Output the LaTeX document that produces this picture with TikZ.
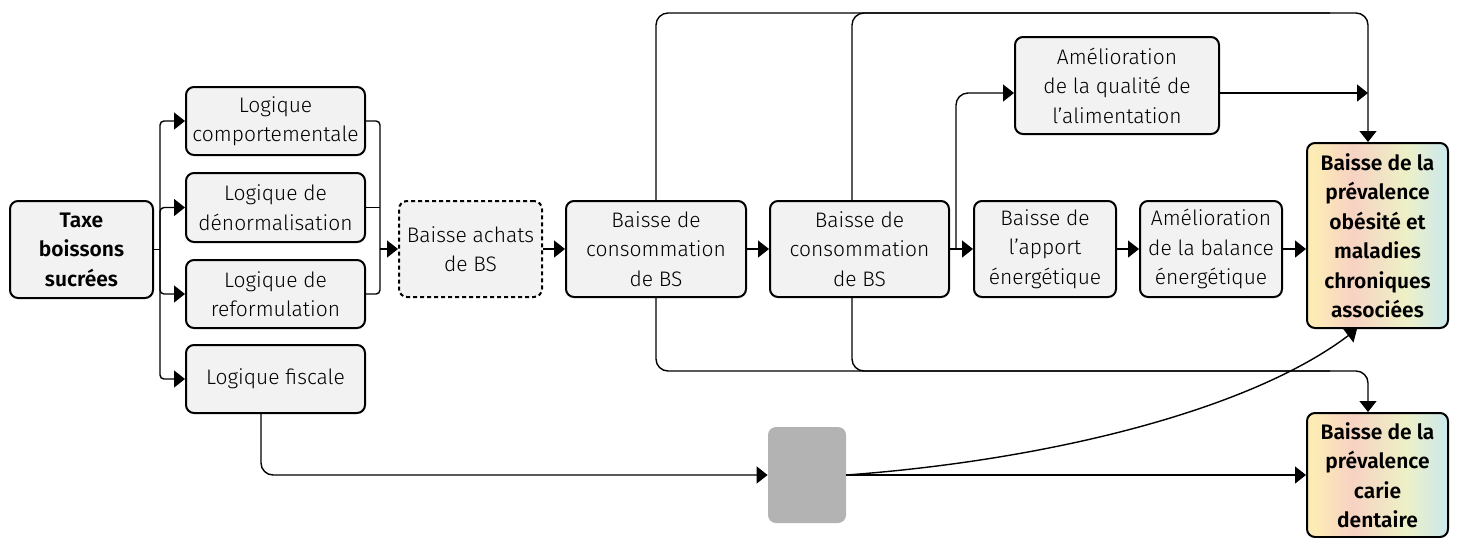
\documentclass[tikz,border=0pt]{standalone}
\usepackage{fontspec}
\setmainfont{Fira Sans}[UprightFont=* Light, BoldFont=* SemiBold]
\usetikzlibrary{arrows.meta,calc}
\definecolor{boxfill}{HTML}{F2F2F2}
\definecolor{grayfill}{HTML}{B3B3B3}
\definecolor{oca}{HTML}{FCEBB5}
\definecolor{ocb}{HTML}{F7D2C3}
\definecolor{occ}{HTML}{EDF0C6}
\definecolor{ocd}{HTML}{CBE8EE}
\pgfdeclarehorizontalshading{outcome}{100bp}{color(0bp)=(oca); color(25bp)=(oca); color(28bp)=(oca); color(41bp)=(ocb); color(60bp)=(occ); color(75bp)=(ocd); color(100bp)=(ocd)}
\newcommand\bxfont{\fontsize{10.5pt}{14.75pt}\selectfont}
\begin{document}
\begin{tikzpicture}[x=0.5pt,y=-0.5pt,
  font=\bxfont,
  sz/.style 2 args={minimum width=#1*0.5pt, minimum height=#2*0.5pt},
  box/.style={draw, line width=1pt, rounded corners=4pt, fill=boxfill, align=center, inner sep=0pt},
  boldbox/.style={box, font=\bxfont\bfseries},
  dashbox/.style={box, dash pattern=on 2pt off 1.5pt},
  outbox/.style={draw, line width=1pt, rounded corners=4pt, shading=outcome, align=center, inner sep=0pt, font=\bxfont\bfseries},
  graybox/.style={fill=grayfill, rounded corners=4pt, inner sep=0pt},
  conn/.style={line width=0.7pt},
  arr/.style={conn, -{Triangle[length=5.5pt,width=8.5pt]}}]
\useasboundingbox (0,0) rectangle (1461,537);

% nodes
\node[boldbox, sz={143}{97}] (taxe) at (81.5,249.5) {Taxe\\boissons\\sucrées};
\node[box, sz={179}{68}] (l1) at (275.5,121) {Logique\\comportementale};
\node[box, sz={179}{69}] (l2) at (275.5,207.5) {Logique de\\dénormalisation};
\node[box, sz={179}{68}] (l3) at (275.5,294) {Logique de\\reformulation};
\node[box, sz={179}{68}] (l4) at (275.5,379) {Logique fiscale};
\node[dashbox, sz={143}{96}] (achat) at (470.5,249) {Baisse achats\\de BS};
\node[box, sz={180}{96}] (conso1) at (656,249) {Baisse de\\consommation\\de BS};
\node[box, sz={179}{96}] (conso2) at (859.5,249) {Baisse de\\consommation\\de BS};
\node[box, sz={204}{97}] (qual) at (1117,85.5) {Amélioration\\de la qualité de\\l’alimentation};
\node[box, sz={142}{96}] (apport) at (1045,249) {Baisse de\\l’apport\\énergétique};
\node[box, sz={142}{96}] (balance) at (1211,249) {Amélioration\\de la balance\\énergétique};
\node[outbox, sz={141}{185}] (obes) at (1377.5,235.5) {Baisse de la\\prévalence\\obésité et\\maladies\\chroniques\\associées};
\node[outbox, sz={141}{124}] (carie) at (1377.5,475) {Baisse de la\\prévalence\\carie\\dentaire};
\node[graybox, sz={78}{96}] (gray) at (807,475) {};

% taxe -> logiques
\coordinate (bx) at (160,249.5);
\draw[conn] (taxe.east) -- (bx);
\foreach \n in {l1,l2,l3,l4} \draw[arr, rounded corners=2pt] (bx) |- (\n.west);

% logiques -> achats
\coordinate (mx) at (380,249);
\draw[conn, rounded corners=2pt] (l1.east) -| (mx);
\draw[conn, rounded corners=2pt] (l3.east) -| (mx);
\draw[conn] (l2.east) -- (l2.east -| mx);
\draw[arr] (mx) -- (achat.west);

% main chain
\draw[arr] (achat) -- (conso1);
\draw[arr] (conso1) -- (conso2);
\draw[arr] (conso2) -- (apport);
\draw[arr] (apport) -- (balance);
\draw[arr] (balance.east) -- (balance.east -| obes.west);

% branch to qualite
\coordinate (qb) at (956,93);
\draw[arr, rounded corners=6pt] (qb |- conso2.east) -- (qb) -- (qb -| qual.west);

% top and bottom bypass lines
\coordinate (jt) at (1368,13);
\coordinate (jb) at (1368,371);
\coordinate (jt2) at (1330,13);
\coordinate (jb2) at (1330,371);
\draw[arr] (qb -| qual.east) -- (qb -| jt);
\draw[arr, rounded corners=6pt] (conso1.north) |- (jt) -- (jt |- obes.north);
\draw[conn, rounded corners=6pt] ([xshift=-3.75pt]conso2.north) |- (jt2);
\draw[arr, rounded corners=6pt] (conso1.south) |- (jb) -- (jb |- carie.north);
\draw[conn, rounded corners=6pt] ([xshift=-3.75pt]conso2.south) |- (jb2);

% fiscal path
\coordinate (fx) at (261,475);
\draw[arr, rounded corners=6pt] (l4.south -| fx) |- (gray.west);
\draw[arr] (gray.east) -- (gray.east -| carie.west);
\draw[arr] (gray.east) .. controls (1050,460) and (1250,410) .. ([xshift=-10.25pt]obes.south);
\end{tikzpicture}
\end{document}
